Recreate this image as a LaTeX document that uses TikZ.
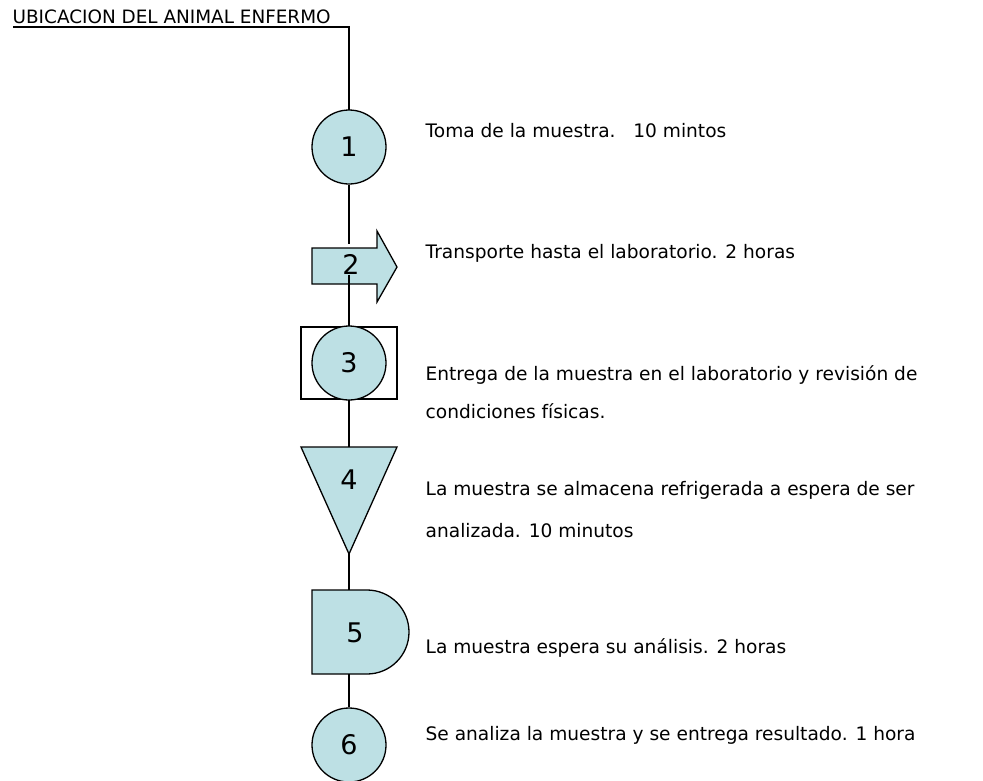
\documentclass[tikz,border=0pt]{standalone}
\usepackage{fontspec}
\setmainfont{DejaVu Sans}
\usetikzlibrary{shapes,positioning}
\usetikzlibrary{calc}

\definecolor{oper}{RGB}{189,224,228}

\begin{document}
\begin{tikzpicture}[x=1pt,y=-1pt,line width=1.3pt,
  stepcirc/.style={circle,draw,fill=oper,minimum size=74pt,inner sep=0pt,
    font=\fontsize{27}{27}\selectfont},
  stepnum/.style={inner sep=0pt,font=\fontsize{27}{27}\selectfont},
  desc/.style={anchor=base west,inner sep=0pt,font=\fontsize{18.6}{39}\selectfont}]

\useasboundingbox (0,0) rectangle (983,780);

\coordinate (top) at (349,27);
\coordinate (a2top) at (349,244);
\coordinate (t4top) at (349,447);
\coordinate (t4tip) at (349,554);
\coordinate (d5top) at (349,590);
\coordinate (d5bot) at (349,674);

% title
\node[anchor=base west,inner sep=0pt,font=\fontsize{18.4}{18.4}\selectfont] (title) at (12,23)
   {UBICACION DEL ANIMAL ENFERMO};
\draw (13,27) -- (top) -- (349,110);

% 1
\node[stepcirc] (c1) at (349,147) {1};
\draw (c1.south) -- (a2top);

% 2 arrow
\draw[fill=oper] (312,248) -- (377,248) -- (377,231) -- (397,267) -- (377,302)
   -- (377,284) -- (312,284) -- cycle;
\node[stepnum] (n2) at (351,264) {2};

% 3
\node[draw,minimum width=96pt,minimum height=72pt] (b3) at (349,363) {};
\draw (b3.north |- n2.south) -- (b3.north);
\node[stepcirc] (c3) at (349,363) {3};

% 4
\draw[fill=oper] (301,447) -- (397,447) -- (t4tip) -- cycle;
\node[stepnum] (n4) at (349,480) {4};
\draw (b3.south) -- (t4top);

% 5
\draw[fill=oper] (312,590) -- (367,590) arc[start angle=90,end angle=-90,x radius=42,y radius=-42]
   -- (312,674) -- cycle;
\node[stepnum] (n5) at (355,633) {5};
\draw (t4tip) -- (d5top);

% 6
\node[stepcirc] (c6) at (349,745) {6};
\draw (d5bot) -- (c6.north);

\node[desc] (l1) at (425,137) {Toma de la muestra.\ \ \ 10 mintos};
\node[desc] (l2) at (425,258) {Transporte hasta el laboratorio. 2 horas};
\node[desc] (l3) at (425,380) {Entrega de la muestra en el laboratorio y revisión de};
\node[desc] (l3b) at (425,418) {condiciones físicas.};
\node[desc] (l4) at (425,495) {La muestra se almacena refrigerada a espera de ser};
\node[desc] (l4b) at (425,537) {analizada. 10 minutos};
\node[desc] (l5) at (425,653) {La muestra espera su análisis. 2 horas};
\node[desc] (l6) at (425,740) {Se analiza la muestra y se entrega resultado. 1 hora};

\end{tikzpicture}
\end{document}
